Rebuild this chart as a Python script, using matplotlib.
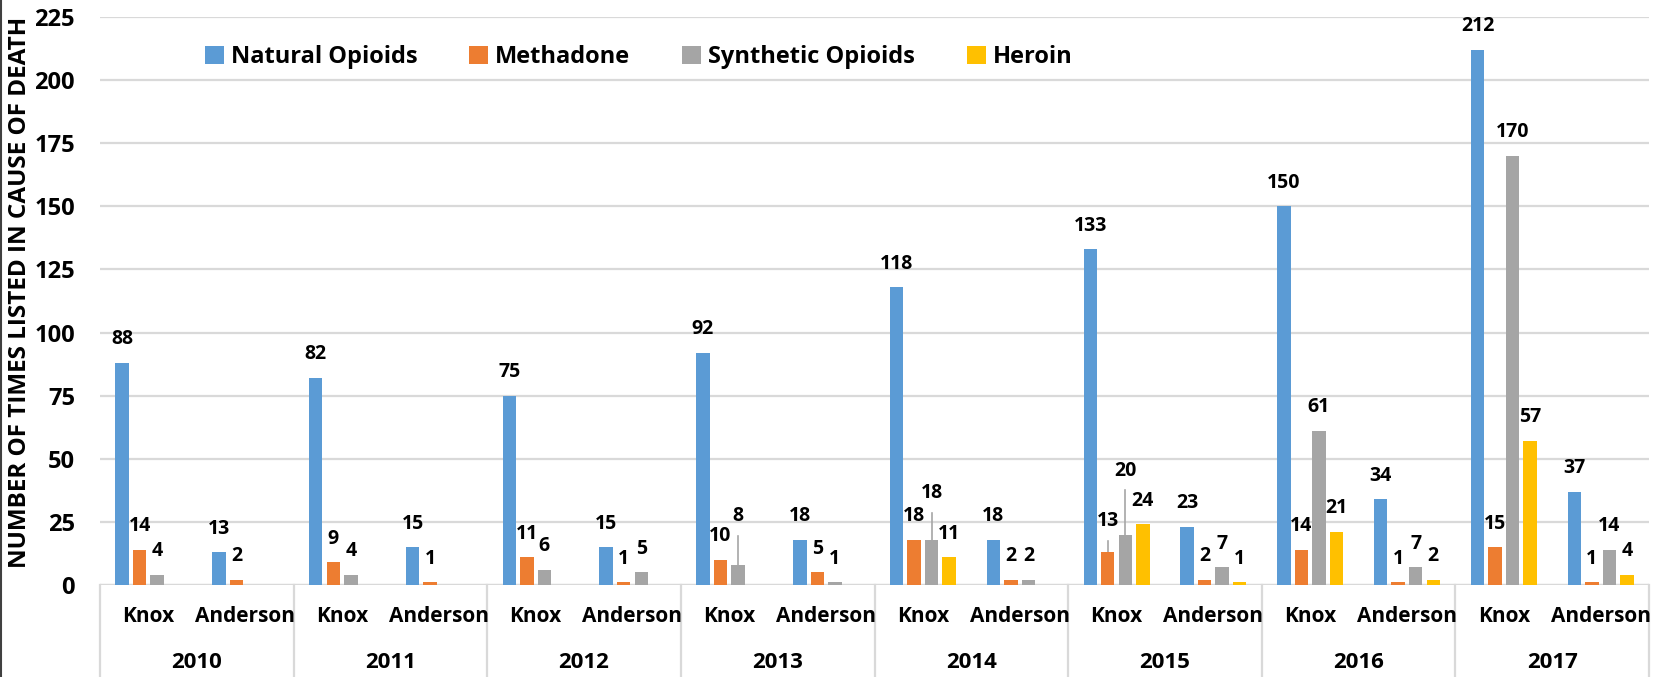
import numpy as np
import matplotlib
matplotlib.use("Agg")
import matplotlib.pyplot as plt
from matplotlib.patches import Patch
from matplotlib.lines import Line2D

plt.rcParams['font.family'] = ['Open Sans', 'DejaVu Sans']
plt.rcParams['font.weight'] = 'bold'

# ── DATA ──────────────────────────────────────────────────
years    = ["2010", "2011", "2012", "2013", "2014", "2015", "2016", "2017"]
counties = ["Knox", "Anderson"]
series   = ["Natural Opioids", "Methadone", "Synthetic Opioids", "Heroin"]

# one value per (year, county) in order: 2010 Knox, 2010 Anderson, 2011 Knox, ...
# None = not reported
natural   = [88, 13, 82, 15, 75, 15, 92, 18, 118, 18, 133, 23, 150, 34, 212, 37]
methadone = [14, 2, 9, 1, 11, 1, 10, 5, 18, 2, 13, 2, 14, 1, 15, 1]
synthetic = [4, None, 4, None, 6, 5, 8, 1, 18, 2, 20, 7, 61, 7, 170, 14]
heroin    = [None, None, None, None, None, None, None, None, 11, None, 24, 1, 21, 2, 57, 4]

colors = ["#5B9BD5", "#ED7D31", "#A5A5A5", "#FFC000"]

# labels lifted off their bar (index in category order, series index) -> extra height
label_lift = {(6, 2): 10, (8, 2): 9, (10, 1): 3, (10, 2): 16}

# ── PLOT ──────────────────────────────────────────────────
fig = plt.figure(figsize=(16.63, 6.77), dpi=100)
ax = fig.add_axes([100/1663, 1 - 585/677, 1549/1663, 568/677])

n_cat = len(years) * len(counties)
x = np.arange(n_cat)
slot, width = 0.181, 0.139
all_vals = [natural, methadone, synthetic, heroin]

for si, vals in enumerate(all_vals):
    offs = (si - 1.5) * slot
    for ci, v in enumerate(vals):
        if v is None:
            continue
        ax.bar(x[ci] + offs, v, width=width, color=colors[si], zorder=3)
        lift = label_lift.get((ci, si), 0)
        ax.annotate(str(v), (x[ci] + offs, v + lift), xytext=(0, 17),
                    textcoords="offset points", ha="center", va="center",
                    fontsize=14, fontweight="bold", color="black", zorder=4)
        if lift:
            ax.plot([x[ci] + offs] * 2, [v, v + lift + 1.5], color="#A6A6A6",
                    lw=1.2, zorder=2)

ax.set_xlim(-0.5, n_cat - 0.5)
ax.set_ylim(0, 225)
ax.set_yticks(np.arange(0, 226, 25))
ax.tick_params(axis="y", length=0, pad=18, labelsize=17)
ax.tick_params(axis="x", length=0, labelbottom=False)
for lbl in ax.get_yticklabels():
    lbl.set_fontweight("bold")
ax.grid(axis="y", color="#D9D9D9", lw=1.6, zorder=0)
for s in ax.spines.values():
    s.set_visible(False)
ax.axhline(0, color="#D9D9D9", lw=1.6, zorder=1)

ax.set_ylabel("NUMBER OF TIMES LISTED IN CAUSE OF DEATH", fontsize=17.5,
              fontweight="bold", va="center")
ax.yaxis.set_label_coords(-0.0515, 0.515)

# two-level category axis
trans = ax.get_xaxis_transform()
for ci in range(n_cat):
    ax.text(x[ci], -0.0563, counties[ci % 2], transform=trans, ha="center",
            va="center", fontsize=15, fontweight="bold")
for yi, yr in enumerate(years):
    ax.text(2 * yi + 0.5, -0.1356, yr, transform=trans, ha="center",
            va="center", fontsize=16, fontweight="bold")
for b in np.arange(len(years) + 1) * 2 - 0.5:
    ax.plot([b, b], [0, -0.17], transform=trans, color="#D9D9D9", lw=1.6,
            clip_on=False)

handles = [Patch(facecolor=c, edgecolor="none") for c in colors]
fig.legend(handles, series, loc="center left",
           bbox_to_anchor=(193/1663, 1 - 57/677), ncol=4, frameon=False,
           handlelength=0.8, handleheight=0.8,
           handletextpad=0.3, columnspacing=2.2, borderpad=0,
           prop={"weight": "bold", "size": 17})

fig.add_artist(Line2D([0.0008, 0.0008], [0, 1], transform=fig.transFigure,
                      color="#404040", lw=1.5))

fig.savefig("out.png", dpi=100)
